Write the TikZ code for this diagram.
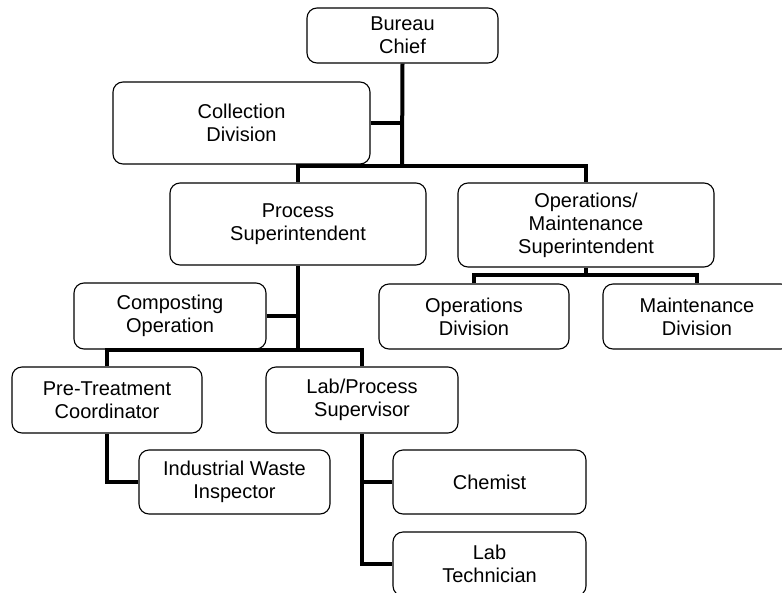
\documentclass[tikz,border=0pt]{standalone}
\usepackage{fontspec}
\setmainfont{Liberation Sans}
\usepackage{tikz}
\usetikzlibrary{calc}

\begin{document}
\begin{tikzpicture}[x=1pt, y=-1pt,
            orgbox/.style={draw, rectangle, rounded corners=10pt, line width=1.1pt, fill=white, align=center, inner sep=0pt, font=\fontsize{20}{23}\selectfont},
            orgline/.style={line width=4pt}]

            \useasboundingbox (0,0) rectangle (782,592);
            \fill[white] (0,0) rectangle (782,592);
            \clip (0,0) rectangle (782,592);

            \node[orgbox, minimum width=191pt, minimum height=55pt] (chief) at (402.5,35.5) {Bureau\\Chief};
            \node[orgbox, minimum width=257pt, minimum height=82pt] (collect) at (241.5,123) {Collection\\Division};
            \node[orgbox, minimum width=256pt, minimum height=82pt] (procsup) at (298,224) {Process\\Superintendent};
            \node[orgbox, minimum width=256pt, minimum height=84pt] (opsup) at (586,225) {Operations/\\Maintenance\\Superintendent};

            \node[orgbox, minimum width=192pt, minimum height=66pt] (compost) at (170,316) {Composting\\Operation};
            \node[orgbox, minimum width=190pt, minimum height=65pt] (opsdiv) at (474,316.5) {Operations\\Division};
            \node[orgbox, minimum width=188pt, minimum height=65pt] (maintdiv) at (697,316.5) {Maintenance\\Division};

            \node[orgbox, minimum width=190pt, minimum height=66pt] (pretreat) at (107,400) {Pre-Treatment\\Coordinator};
            \node[orgbox, minimum width=192pt, minimum height=66pt] (labsup) at (362,400) {Lab/Process\\Supervisor};

            \node[orgbox, minimum width=191pt, minimum height=64pt] (indwaste) at (234.5,482) {Industrial Waste\\Inspector};
            \node[orgbox, minimum width=193pt, minimum height=64pt] (chemist) at (489.5,482) {Chemist};
            \node[orgbox, minimum width=193pt, minimum height=64pt] (labtech) at (489.5,564) {Lab\\Technician};

            \coordinate (chiefbus) at (402,166);
            \coordinate (procbus) at (298,350);
            \coordinate (opsbus) at (586,275);

            \draw[orgline] (chief.south) -- (chiefbus);
            \draw[orgline] (collect.east) -- (collect.east -| chief.south);
            \draw[orgline] (procsup.north) |- (chiefbus) -| (opsup.north);

            \draw[orgline] (procsup.south) -- (procbus);
            \draw[orgline] (compost.east) -- (compost.east -| procsup.south);
            \draw[orgline] (pretreat.north) |- (procbus) -| (labsup.north);

            \draw[orgline] (opsup.south) -- (opsbus);
            \draw[orgline] (opsdiv.north) |- (opsbus) -| (maintdiv.north);

            \draw[orgline] (pretreat.south) |- (indwaste.west);
            \draw[orgline] (labsup.south) |- (labtech.west);
            \draw[orgline] (chemist.west) -- (chemist.west -| labsup.south);
        \end{tikzpicture}
\end{document}
